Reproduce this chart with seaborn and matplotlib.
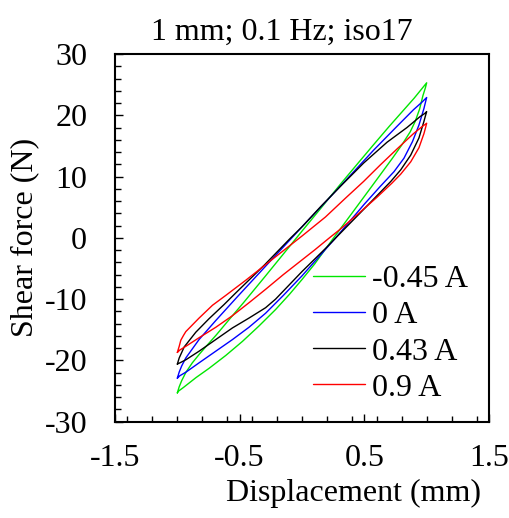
import matplotlib
matplotlib.use("Agg")
import matplotlib.pyplot as plt
import seaborn as sns
import pandas as pd
from matplotlib.ticker import MultipleLocator

# ---- data ----
labels = ["-0.45 A", "0 A", "0.43 A", "0.9 A"]
colors = ["#00E600", "#0000FF", "#000000", "#FF0000"]

g_x_up = [-1.0, -0.985, -0.965, -0.93, -0.88, -0.82, -0.76, -0.69, -0.587, -0.47, -0.3, -0.1, 0.0, 0.15, 0.31, 0.45, 0.57, 0.7, 0.8, 0.9, 0.96, 1.0]
g_f_up = [-25.3, -24.3, -23.3, -21.9, -20.4, -18.9, -17.5, -15.9, -13.4, -10.6, -6.4, -1.4, 1.1, 4.8, 8.8, 12.2, 15.1, 18.2, 20.5, 22.8, 24.3, 25.3]
g_x_lo = [1.0, 0.99, 0.97, 0.943, 0.908, 0.868, 0.802, 0.722, 0.574, 0.4, 0.254, 0.1, 0.0, -0.1, -0.212, -0.346, -0.478, -0.612, -0.746, -0.85, -0.95, -0.99, -1.0]
g_f_lo = [25.3, 24.5, 23.2, 21.0, 19.0, 17.3, 15.2, 12.9, 8.8, 4.0, 0.0, -4.3, -6.8, -9.2, -11.7, -14.4, -16.9, -19.2, -21.3, -22.8, -24.4, -25.0, -25.3]

b_x_up = [-1.0, -0.985, -0.965, -0.932, -0.826, -0.692, -0.518, -0.3, -0.1, 0.0, 0.2, 0.388, 0.574, 0.762, 0.894, 0.96, 1.0]
b_f_up = [-22.9, -21.9, -20.9, -19.6, -16.6, -13.5, -9.6, -4.8, -0.4, 1.8, 6.1, 10.2, 14.3, 18.2, 20.9, 22.1, 22.9]
b_x_lo = [1.0, 0.99, 0.978, 0.938, 0.886, 0.818, 0.738, 0.628, 0.5, 0.27, 0.1, 0.0, -0.15, -0.292, -0.426, -0.558, -0.692, -0.826, -0.93, -0.98, -1.0]
b_f_lo = [22.9, 22.1, 21.1, 18.4, 15.7, 13.0, 10.8, 8.4, 5.5, 0.0, -3.9, -6.2, -9.4, -12.3, -14.6, -16.6, -18.5, -20.4, -21.9, -22.5, -22.9]

k_x_up = [-1.0, -0.985, -0.945, -0.852, -0.746, -0.626, -0.532, -0.3, -0.1, 0.0, 0.15, 0.308, 0.494, 0.682, 0.842, 0.948, 0.985, 1.0]
k_f_up = [-20.6, -19.6, -17.8, -15.4, -13.2, -10.9, -9.0, -4.4, -0.2, 1.8, 5.1, 8.4, 12.2, 15.6, 18.0, 19.8, 20.3, 20.6]
k_x_lo = [1.0, 0.99, 0.978, 0.938, 0.872, 0.792, 0.712, 0.55, 0.3, 0.2, 0.0, -0.212, -0.292, -0.426, -0.558, -0.692, -0.826, -0.932, -0.98, -1.0]
k_f_lo = [20.6, 19.9, 19.0, 16.3, 13.5, 11.1, 9.2, 5.8, 0.6, -1.5, -5.5, -10.0, -11.4, -13.1, -14.7, -16.6, -18.5, -19.9, -20.4, -20.6]

r_x_up = [-1.0, -0.985, -0.972, -0.95, -0.932, -0.826, -0.718, -0.612, -0.45, -0.3, -0.1, 0.0, 0.188, 0.35, 0.494, 0.628, 0.762, 0.894, 0.96, 1.0]
r_f_up = [-18.7, -17.7, -16.7, -15.9, -15.3, -13.1, -11.0, -9.4, -6.9, -4.5, -1.3, 0.3, 3.4, 6.5, 9.2, 11.9, 14.5, 17.0, 18.1, 18.7]
r_x_lo = [1.0, 0.99, 0.978, 0.938, 0.872, 0.792, 0.72, 0.6, 0.45, 0.3, 0.22, 0.1, 0.0, -0.15, -0.292, -0.426, -0.558, -0.692, -0.826, -0.932, -0.98, -1.0]
r_f_lo = [18.7, 17.9, 17.0, 14.7, 12.4, 10.4, 8.9, 6.6, 3.9, 1.3, 0.0, -2.0, -3.6, -6.0, -8.4, -10.6, -12.7, -14.6, -16.3, -17.7, -18.3, -18.7]

x_ticks = [-1.5, -0.5, 0.5, 1.5]
y_ticks = [-30, -20, -10, 0, 10, 20, 30]
title = "1 mm; 0.1 Hz; iso17"
x_label = "Displacement (mm)"
y_label = "Shear force (N)"

# ---- assemble long table ----
series = [
    (labels[0], g_x_up + g_x_lo, g_f_up + g_f_lo),
    (labels[1], b_x_up + b_x_lo, b_f_up + b_f_lo),
    (labels[2], k_x_up + k_x_lo, k_f_up + k_f_lo),
    (labels[3], r_x_up + r_x_lo, r_f_up + r_f_lo),
]
rows = []
for lab, xs, fs in series:
    for i, (x, f) in enumerate(zip(xs, fs)):
        rows.append({"Current": lab, "Displacement": x, "Force": f, "order": i})
df = pd.DataFrame(rows)

sns.set_theme(style="white")
plt.rcParams["font.family"] = ["Liberation Serif", "DejaVu Serif"]

FS = 23
W, H = 509, 518
fig = plt.figure(figsize=(W / 100, H / 100), dpi=100)
ax_l, ax_r, ax_t, ax_b = 115, 489, 54, 421.7
ax = fig.add_axes([ax_l / W, 1 - ax_b / H, (ax_r - ax_l) / W, (ax_b - ax_t) / H])

sns.lineplot(data=df, x="Displacement", y="Force", hue="Current",
             hue_order=labels, palette=colors, sort=False, estimator=None,
             linewidth=1.0, ax=ax, legend=True)

ax.set_xlim(-1.5, 1.5)
ax.set_ylim(-30, 30)
ax.set_xticks(x_ticks)
ax.set_xticklabels([f"{v:g}" for v in x_ticks])
ax.set_yticks(y_ticks)
ax.set_yticklabels([f"{v:g}" for v in y_ticks])
ax.xaxis.set_minor_locator(MultipleLocator(0.2))
ax.yaxis.set_minor_locator(MultipleLocator(2))

ax.tick_params(axis="both", which="both", direction="in", colors="black",
               labelsize=FS, width=1.0)
ax.tick_params(axis="both", which="major", length=6)
ax.tick_params(axis="both", which="minor", length=4)
ax.tick_params(axis="x", which="both", bottom=True, top=False, pad=16)
ax.tick_params(axis="y", which="both", left=True, right=False, pad=20)

for s in ax.spines.values():
    s.set_visible(True)
    s.set_color("black")
    s.set_linewidth(1.5)

ax.set_xlabel(x_label, fontsize=FS, color="black")
ax.xaxis.set_label_coords((353 - ax_l) / (ax_r - ax_l), -0.155)
ax.set_ylabel(y_label, fontsize=FS, color="black", labelpad=4)
ax.set_title(title, fontsize=FS, color="black", pad=10,
             x=(282 - ax_l) / (ax_r - ax_l))

handles, labs = ax.get_legend_handles_labels()
leg = ax.legend(handles, labs, loc="upper left",
                bbox_to_anchor=(313 / W, 1 - 265 / H),
                bbox_transform=fig.transFigure, frameon=False,
                fontsize=FS, handlelength=1.63, handletextpad=0.22,
                labelspacing=0.21, borderpad=0, borderaxespad=0)
for t in leg.get_texts():
    t.set_color("black")

fig.savefig("out.png", dpi=100, facecolor="white")
